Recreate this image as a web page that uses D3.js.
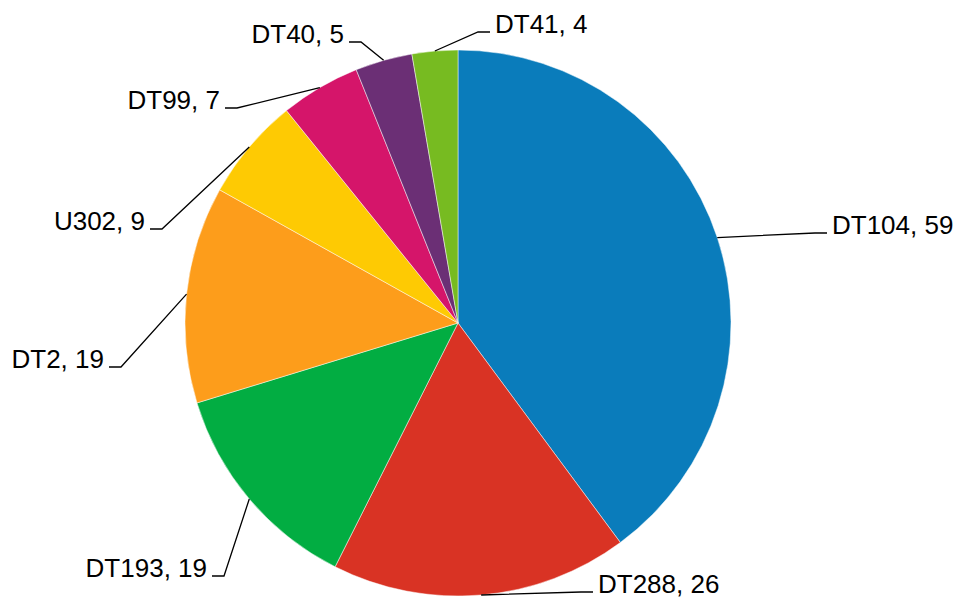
<!DOCTYPE html>
<html>
<head>
<meta charset="utf-8">
<script src="https://cdn.jsdelivr.net/npm/d3@7"></script>
<style>
  html, body { margin: 0; padding: 0; background: #fff; }
  svg { display: block; }
  text { font-family: "Liberation Sans", Arial, sans-serif; }
</style>
</head>
<body>
<svg id="chart" width="957" height="599"></svg>
<script>
// Slice data, clockwise from 12 o'clock
const categories = ["DT104", "DT288", "DT193", "DT2", "U302", "DT99", "DT40", "DT41"];
const counts     = [59, 26, 19, 19, 9, 7, 5, 4];
const colors     = ["#0A7CBB", "#D93324", "#02AD42", "#FD9D1B", "#FECA03", "#D5156A", "#6B2F75", "#77BB21"];

// Where each label's leader line ends (text sits just beyond this point)
const labelAnchors = [[827, 233], [593, 592], [212, 576], [109, 367], [150, 229], [225, 108], [349, 42], [490, 32]];

const width = 957, height = 599;
const cx = 458, cy = 323, radius = 273;
const elbowRun = 12;

const svg = d3.select("#chart");
const g = svg.append("g").attr("transform", `translate(${cx},${cy})`);

const data = categories.map((c, i) => ({ name: c, value: counts[i], color: colors[i], anchor: labelAnchors[i] }));

const pie = d3.pie().value(d => d.value).sort(null);
const arc = d3.arc().innerRadius(0).outerRadius(radius);
const arcs = pie(data);

g.selectAll("path.slice")
  .data(arcs)
  .join("path")
  .attr("class", "slice")
  .attr("d", arc)
  .attr("fill", d => d.data.color)
  .attr("stroke", "#ffffff")
  .attr("stroke-opacity", 0.6)
  .attr("stroke-width", 0.8);

// Leader lines: from the arc midpoint to an elbow, then a short horizontal run
const labels = svg.append("g");
arcs.forEach(a => {
  const mid = (a.startAngle + a.endAngle) / 2;
  const sx = cx + radius * Math.sin(mid);
  const sy = cy - radius * Math.cos(mid);
  const [ax, ay] = a.data.anchor;
  const right = ax > sx;
  const ex = right ? ax - elbowRun : ax + elbowRun;
  labels.append("path")
    .attr("d", d3.line()([[sx, sy], [ex, ay], [ax, ay]]))
    .attr("fill", "none")
    .attr("stroke", "#000")
    .attr("stroke-width", 1.3);
  labels.append("text")
    .attr("x", right ? ax + 5 : ax - 5)
    .attr("y", ay + 1)
    .attr("text-anchor", right ? "start" : "end")
    .attr("font-size", 26)
    .attr("fill", "#000")
    .text(`${a.data.name}, ${a.data.value}`);
});
</script>
</body>
</html>
